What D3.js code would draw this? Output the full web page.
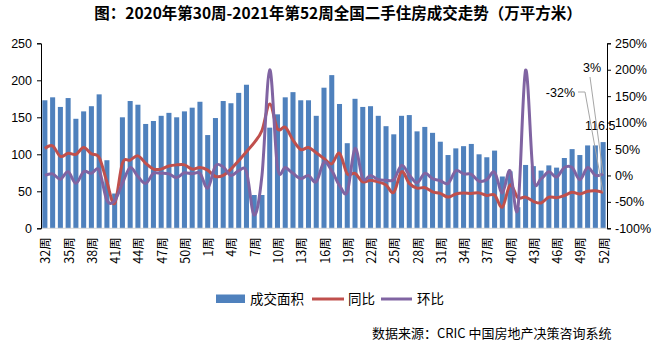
<!DOCTYPE html>
<html><head><meta charset="utf-8">
<script src="https://cdn.jsdelivr.net/npm/d3@7/dist/d3.min.js"></script>
<style>
body{margin:0;background:#fff;}
svg{display:block;}
text{font-family:"Liberation Sans","DejaVu Sans",sans-serif;}
.cjk{font-family:"Noto Sans CJK SC","Noto Sans",sans-serif;}
</style></head>
<body>
<svg id="chart" width="659" height="350"></svg>
<script>
const weeks2020 = [32,33,34,35,36,37,38,39,40,41,42,43,44,45,46,47,48,49,50,51,52];
const weeks2021 = d3.range(1,53);
const categories = weeks2020.concat(weeks2021).map(w => w + "周");

const area = [173,177,164,176,148,158,165,181,92,47,150,172,167,141,145,152,156,150,158,163,171,
  126,149,172,169,183,194,45,45,136,154,177,184,173,173,152,190,207,168,115,175,
  164,165,152,138,127,152,153,131,137,129,117,99,108,111,114,100,96,105,70,77,
  28.5,85.6,84,78,85,82,95,107,99,112,112,116.5];

const yoy = [51,56,36,42,40,53,41,34,-12,-53,23,29,37,23,12,12,18,20,20,12,15,
  10,-2,0,12,28,45,62,85,135,88,91,67,49,53,43,32,22,42,3,4,
  -12,-9,-12,-18,-32,7,-15,-24,-23,-31,-34,-41,-35,-33,-34,-33,-38,-37,-60,-18,
  -42,-41,-49,-52,-41,-42,-38,-32,-35,-30,-29,-32];

const wow = [0,3,-7,7,-15,7,4,10,-47,-48,-15,15,-2,-15,4,4,3,-4,5,3,4,
  -24,18,16,0,9,7,-75,0,200,15,15,4,-6,0,-12,25,9,-19,-31,51,
  -6,0,-8,-9,-8,19,1,-14,4,-6,-10,-15,9,3,2,-11,-8,6,-33,9,
  -63,199,-3,-6,7,-3,15,15,-8,15,0,3];

const leftTicks = [0,50,100,150,200,250];
const rightTicks = [-100,-50,0,50,100,150,200,250];

const svg = d3.select("#chart");
const x0 = 41, x1 = 607, yTop = 43.3, yBot = 228.3;

const x = d3.scaleBand().domain(d3.range(categories.length)).range([x0,x1]).paddingInner(0.35).paddingOuter(0.175);
const yL = d3.scaleLinear().domain([0,250]).range([yBot,yTop]);
const yR = d3.scaleLinear().domain([-100,250]).range([yBot,yTop]);
const cx = i => x(i) + x.bandwidth()/2;

// title
svg.append("text").attr("class","cjk").attr("x",338).attr("y",19)
  .attr("text-anchor","middle").attr("font-size",15.5).attr("font-weight","bold")
  .attr("fill","#000").text("图：2020年第30周-2021年第52周全国二手住房成交走势（万平方米）");

// bars
svg.append("g").selectAll("rect").data(area).join("rect")
  .attr("x",(d,i)=>x(i)).attr("width",x.bandwidth())
  .attr("y",d=>yL(d)).attr("height",d=>yBot-yL(d)).attr("fill","#4F81BD");

// bottom axis line
svg.append("line").attr("x1",x0).attr("x2",x1).attr("y1",yBot).attr("y2",yBot)
  .attr("stroke","#d9d9d9").attr("stroke-width",1);

// left axis
const gl = svg.append("g").attr("transform",`translate(${x0},0)`)
  .call(d3.axisLeft(yL).tickValues(leftTicks).tickSize(4).tickPadding(5));
gl.select(".domain").attr("stroke","#000");
gl.selectAll("text").attr("font-size",12.5).attr("fill","#000").attr("font-family","Liberation Sans");
// right axis
const gr = svg.append("g").attr("transform",`translate(${x1},0)`)
  .call(d3.axisRight(yR).tickValues(rightTicks).tickSize(4).tickPadding(4).tickFormat(d=>d+"%"));
gr.select(".domain").attr("stroke","#000");
gr.selectAll("text").attr("font-size",12.5).attr("fill","#000").attr("font-family","Liberation Sans");

// x labels
const xl = svg.append("g");
categories.forEach((c,i)=>{
  if(i%3!==0) return;
  xl.append("text").attr("class","cjk")
    .attr("transform",`translate(${cx(i)+5.5},${yBot+9}) rotate(-90)`)
    .attr("text-anchor","end").attr("font-size",12.5).attr("fill","#000").text(c);
});

// lines
const line = d3.line().x((d,i)=>cx(i)).y(d=>yR(d)).curve(d3.curveCardinal.tension(0));
svg.append("path").datum(yoy).attr("d",line).attr("fill","none")
  .attr("stroke","#C0504D").attr("stroke-width",3).attr("stroke-linejoin","round");
svg.append("path").datum(wow).attr("d",line).attr("fill","none")
  .attr("stroke","#8064A2").attr("stroke-width",3).attr("stroke-linejoin","round");

// data labels
const n = area.length - 1;
svg.append("text").attr("x",cx(n)-18).attr("y",yL(area[n])-12)
  .attr("font-size",12.5).attr("fill","#000").text(area[n]);
// leader lines
const lx = cx(n);
svg.append("polyline").attr("points",`578,92 585,92 ${lx},${yR(yoy[n])}`)
  .attr("fill","none").attr("stroke","#a6a6a6").attr("stroke-width",1);
svg.append("polyline").attr("points",`590,77 ${lx},${yR(wow[n])}`)
  .attr("fill","none").attr("stroke","#a6a6a6").attr("stroke-width",1);
svg.append("text").attr("x",575).attr("y",96.5).attr("text-anchor","end")
  .attr("font-size",12.5).attr("fill","#000").text(yoy[n]+"%");
svg.append("text").attr("x",583).attr("y",71.5)
  .attr("font-size",12.5).attr("fill","#000").text(wow[n]+"%");

// legend
const lg = svg.append("g");
lg.append("rect").attr("x",216).attr("y",294.5).attr("width",29).attr("height",8.5).attr("fill","#4F81BD");
lg.append("text").attr("class","cjk").attr("x",250).attr("y",304).attr("font-size",13.5).text("成交面积");
lg.append("line").attr("x1",312).attr("x2",344).attr("y1",299).attr("y2",299).attr("stroke","#C0504D").attr("stroke-width",3);
lg.append("text").attr("class","cjk").attr("x",348).attr("y",304).attr("font-size",13.5).text("同比");
lg.append("line").attr("x1",381).attr("x2",412).attr("y1",299).attr("y2",299).attr("stroke","#8064A2").attr("stroke-width",3);
lg.append("text").attr("class","cjk").attr("x",417).attr("y",304).attr("font-size",13.5).text("环比");

// source
svg.append("text").attr("class","cjk").attr("x",372).attr("y",338).attr("font-size",13)
  .attr("fill","#000").text("数据来源：CRIC 中国房地产决策咨询系统");
</script>
</body></html>
